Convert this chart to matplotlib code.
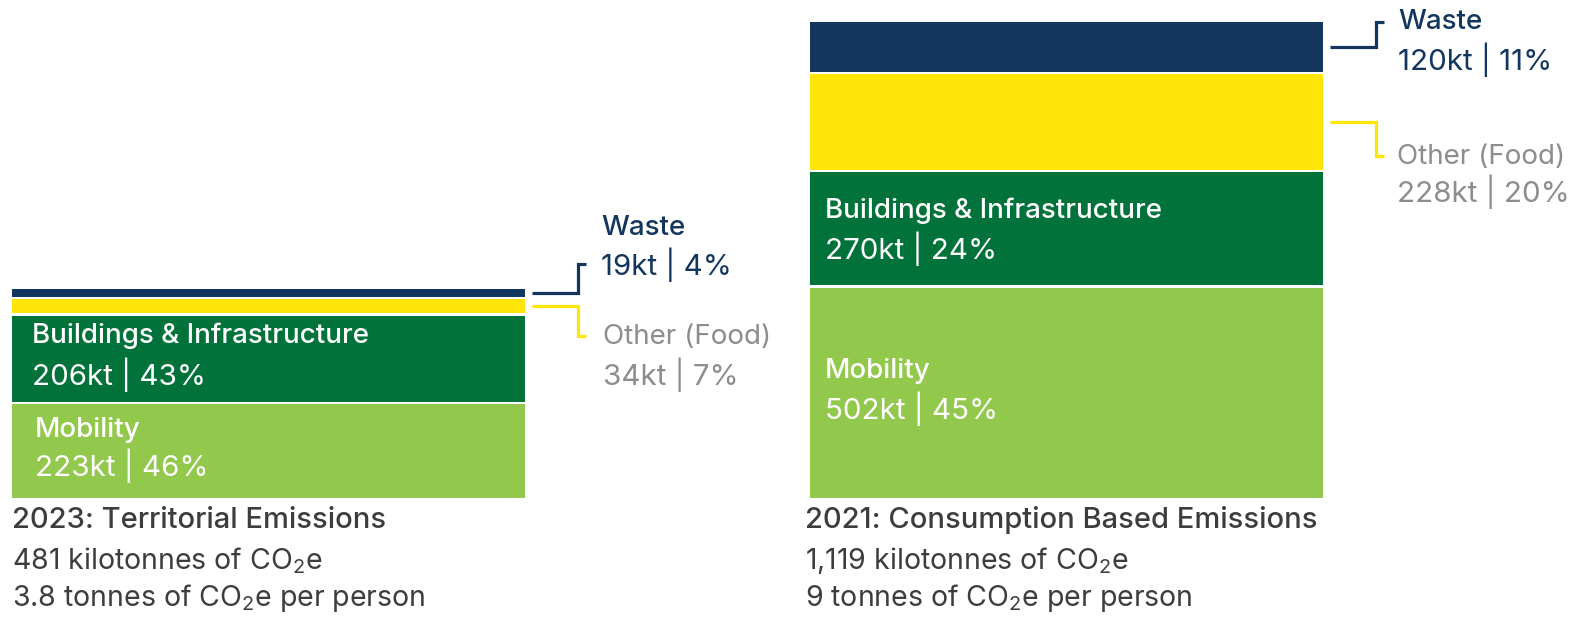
"""
Emisiones territoriales vs basadas en consumo: dos barras apiladas
"""

import matplotlib.pyplot as plt

plt.rcParams['font.family'] = ['Inter', 'DejaVu Sans']
plt.rcParams['mathtext.fontset'] = 'custom'
plt.rcParams['mathtext.rm'] = 'Inter'

# datos (kt CO2e), de abajo hacia arriba
sectors = ['Mobility', 'Buildings & Infrastructure', 'Other (Food)', 'Waste']
territorial_kt = [223, 206, 34, 19]
territorial_pct = [46, 43, 7, 4]
consumption_kt = [502, 270, 228, 120]
consumption_pct = [45, 24, 20, 11]

titles = ['2023: Territorial Emissions', '2021: Consumption Based Emissions']
subtitles = [['481 kilotonnes of CO$_2$e', '3.8 tonnes of CO$_2$e per person'],
             ['1,119 kilotonnes of CO$_2$e', '9 tonnes of CO$_2$e per person']]

colors = ['#92c84c', '#00723a', '#ffe50a', '#12365e']
navy = '#12365e'
grey = '#8c8d91'
dark = '#3d3d3d'

# tamanos de letra
FS_NAME = 20
FS_VAL = 21.3
FS_TITLE = 21
FS_SUB = 20.5

# geometria en pixeles
W, H = 1570, 617
SCALE = 0.4185      # px por kt
Y0 = 497.7          # base de las barras (px desde arriba)
GAP = 2.4 / SCALE   # separacion blanca entre segmentos


def ypx(p):
    # pixel desde arriba -> unidades de datos
    return (Y0 - p) / SCALE


fig = plt.figure(figsize=(W / 100, H / 100), dpi=100)
ax = fig.add_axes([0, 0, 1, 1])
ax.set_xlim(0, W)
ax.set_ylim(ypx(H), ypx(0))
ax.axis('off')

bar_x = [268.5, 1066.5]
bar_w = 513
series = [(territorial_kt, territorial_pct), (consumption_kt, consumption_pct)]

centers = []
for x, (vals, pcts) in zip(bar_x, series):
    bottom = 0
    c = []
    for i, v in enumerate(vals):
        ax.bar(x, v, bottom=bottom, width=bar_w, color=colors[i], linewidth=0)
        c.append(bottom + v / 2)
        bottom += v + GAP
    centers.append(c)

# etiquetas dentro de las barras
inner = [
    # (barra, sector, x, y nombre, y valor)
    (0, 1, 32, 336, 375),
    (0, 0, 35, 430, 466),
    (1, 1, 825, 211, 249),
    (1, 0, 825, 371, 409),
]
for b, s, x, yn, yv in inner:
    vals, pcts = series[b]
    ax.text(x, ypx(yn), sectors[s], color='white', fontsize=FS_NAME, fontweight='medium', va='center')
    ax.text(x, ypx(yv), f'{vals[s]}kt | {pcts[s]}%', color='white', fontsize=FS_VAL, va='center')

# etiquetas externas con conectores
outer = [
    # (barra, sector, color, x texto, y nombre, y valor, y punta)
    (0, 3, navy, 601, 228, 265, 264),
    (0, 2, grey, 603, 337, 375, 336),
    (1, 3, navy, 1398, 22, 60, 22),
    (1, 2, grey, 1397, 157, 192, 156),
]
for b, s, col, x, yn, yv, tip in outer:
    vals, pcts = series[b]
    ax.text(x, ypx(yn), sectors[s], color=col, fontsize=FS_NAME,
            fontweight='medium' if col == navy else 'normal', va='center')
    ax.text(x, ypx(yv), f'{vals[s]}kt | {pcts[s]}%', color=col, fontsize=FS_VAL, va='center')
    x0 = bar_x[b] + bar_w / 2 + 7
    xe = x0 + 46
    ax.plot([x0, xe, xe, xe + 8], [centers[b][s], centers[b][s], ypx(tip), ypx(tip)],
            color=colors[s], linewidth=2.3, solid_joinstyle='miter', solid_capstyle='butt')

# titulos bajo las barras
for x, t, subs in zip([12, 805], titles, subtitles):
    ax.text(x, ypx(520), t, color=dark, fontsize=FS_TITLE, fontweight='medium', va='center')
    ax.text(x, ypx(561), subs[0], color=dark, fontsize=FS_SUB, va='center')
    ax.text(x, ypx(598), subs[1], color=dark, fontsize=FS_SUB, va='center')

fig.savefig('out.png', dpi=100)
